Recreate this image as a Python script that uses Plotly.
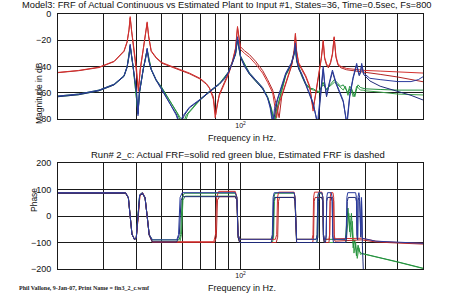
import plotly.graph_objects as go

# ---------------- magnitude data (Hz, dB) ----------------
red_mag_f = [20, 24, 28.7, 32.8, 35.8, 36.8, 37.4, 37.8, 38.3, 38.8, 40, 40.6, 41.3, 42.4, 43.3, 43.9, 44.5, 45.5, 47.5, 50, 54.7, 58.3, 63.7, 70, 74, 76, 78.7, 80, 81.5, 83, 86.8, 90, 93.1, 95.7, 97.4, 99, 100, 103.6, 108.3, 114.2, 121.5, 127, 132.8, 137.5, 140, 143.8, 149, 156.7, 160.5, 162.3, 164, 167, 171.2, 177.8, 184.2, 189.7, 194.2, 200, 204, 207.4, 210, 213.6, 217, 221, 225, 228.4, 232, 236.3, 242.5, 255, 278.6, 300, 342.6, 400, 450, 500]
red_mag = [-44.5, -43, -40.5, -36, -28, -21, -12, -2, -13, -22, -42, -59, -42, -27, -16, -6, -17, -28, -33, -37, -40, -42, -45, -49, -53, -56, -65, -79, -68, -62, -53, -46, -37, -27, -9.5, -22, -27, -30, -33, -38, -45, -52, -60, -79, -70, -62, -52, -39, -28, -14.7, -28, -37, -41, -47, -55, -74, -60, -45, -33, -20, -33, -38, -40, -37, -30, -17.3, -32, -38, -40, -41.5, -42.5, -43, -43.5, -44, -44.5, -45]

red_est_f = [20, 24, 28.7, 32.8, 35.8, 36.8, 37.4, 37.8, 38.3, 38.8, 40, 40.7, 41.3, 42.4, 43.3, 43.9, 44.5, 45.5, 47.5, 50, 54.7, 58.3, 63.7, 70, 74, 76, 78.7, 80.3, 81.5, 83, 86.8, 90, 93.1, 95.7, 97.4, 99, 100, 103.6, 108.3, 114.2, 121.5, 127, 132.8, 136, 140.6, 143.8, 149, 156.7, 160.5, 162.3, 164, 167, 171.2, 177.8, 184.2, 189.7, 194.2, 200, 204, 207.4, 210, 213.6, 217, 221, 225, 228.4, 232, 236.3, 242.5, 255, 278.6, 300, 342.6, 400, 450, 500]
red_est = [-44.7, -43.2, -40.8, -36.3, -28.5, -21.5, -12.5, -3, -13.5, -22.5, -42.5, -58, -42.5, -27.5, -16.5, -7, -17.5, -28.5, -33.5, -37.5, -40.5, -42.5, -45.5, -49.5, -53.5, -56.5, -63, -77, -69, -61, -52, -45, -36, -26, -10.5, -21, -25, -28, -31, -36, -43, -50, -58, -66, -79, -63, -53, -40, -29, -15.5, -29, -38, -42, -48, -56, -72, -61, -46, -34, -21, -34, -39, -41, -38, -31, -18, -33, -39, -41, -42.5, -43.5, -44, -46, -48, -50, -51.6]

blue_mag_f = [20, 24, 28.7, 32.8, 35.8, 36.8, 37.4, 37.8, 38.3, 38.8, 40, 40.5, 41, 42.4, 43.3, 43.9, 44.5, 45.5, 47.5, 50, 51.9, 54.7, 56.7, 58.3, 60, 63.7, 70, 76, 83, 86.8, 90, 93.1, 95.7, 97.4, 99, 100, 103.6, 108.3, 114.2, 121.5, 127, 130, 132.8, 135, 138.8, 143.8, 149, 156.7, 160.5, 162.3, 164, 167, 171.2, 177.8, 184.2, 190, 197, 203, 207.4, 210, 213.6, 219, 225, 232, 240, 247.5, 255, 262, 270, 278.6, 283, 285, 288, 291.2, 296, 313, 342.6, 400, 450, 480, 500]
blue_mag = [-62.5, -61, -58, -53.5, -47, -40, -32, -23, -32, -40, -60, -77.5, -60, -42, -34, -26, -35, -42, -50, -57, -63, -71, -77, -84, -78, -71, -65, -59, -53, -49, -44, -37, -30, -17.3, -28, -32, -39, -45, -50, -56, -64, -72, -84, -72, -64, -55, -45, -37, -30, -22, -34, -41, -45, -53, -61, -68, -84, -60, -40, -52, -62, -52, -42.7, -52, -60, -66, -84, -62, -48, -37.6, -44, -46, -44, -37.6, -45, -49, -50, -51.5, -51.5, -50, -47.8]

blue_est_f = [20, 24, 28.7, 32.8, 35.8, 36.8, 37.4, 37.8, 38.3, 38.8, 40, 40.5, 41, 42.4, 43.3, 43.9, 44.5, 45.5, 47.5, 50, 51.9, 54.7, 56.7, 58.8, 61, 63.7, 70, 76, 83, 86.8, 90, 93.1, 95.7, 97.4, 99, 100, 103.6, 108.3, 114.2, 121.5, 127, 130, 133.5, 136, 138.8, 143.8, 149, 156.7, 160.5, 162.3, 164, 167, 171.2, 177.8, 184.2, 190, 198, 203, 207.4, 210, 213.6, 219, 225, 232, 240, 247.5, 256, 262, 270, 278.6, 283, 285, 288, 291.2, 296, 313, 342.6, 400, 450, 500]
blue_est = [-63, -61.5, -58.5, -54, -47.5, -40.5, -32.5, -24, -32.5, -40.5, -60, -76, -60, -42.5, -34.5, -27, -35.5, -42.5, -50.5, -57.5, -63.5, -71, -76, -84, -77, -71.5, -65.5, -59.5, -53.5, -49.5, -44.5, -37.5, -30.5, -19, -29, -33, -40, -46, -51, -57, -64, -70, -84, -73, -65, -56, -46, -38, -31, -23.5, -35, -42, -46, -54, -62, -69, -84, -61, -42, -53, -63, -53, -44, -53, -61, -67, -84, -63, -49, -39, -45, -47, -45, -39, -46, -51, -55, -59, -62, -65.5]

green_mag_f = [20, 24, 28.7, 32.8, 35.8, 36.8, 37.8, 38.8, 40.5, 41, 42.4, 43.9, 45.5, 47.5, 50, 54.7, 57, 60, 62, 66.5, 70, 76, 83, 90, 95.7, 97.4, 100, 108.3, 121.5, 127, 131, 135, 137, 143.8, 149, 156.7, 162.3, 164, 171.2, 177.8, 185, 190, 200, 207, 213.6, 220, 229, 236, 242, 247.5, 252, 258, 262, 266, 270, 274, 278.6, 282, 288, 295, 300, 342.6, 400, 500]
green_mag = [-62.5, -61, -58, -53.5, -47, -40, -24, -40, -76, -60, -42, -27, -42, -50, -56, -69, -75, -85, -77, -70, -65, -59, -53, -44, -30, -19, -32, -45, -56, -63, -72, -84, -74, -58, -46, -38, -24, -35, -46, -53, -56.6, -57, -60, -52, -58, -54, -50, -53, -55, -54, -57, -60, -55, -56.6, -60, -63, -57, -54, -56, -56.6, -57, -57.5, -58, -58]

green_est_f = [20, 24, 28.7, 32.8, 35.8, 36.8, 37.8, 38.8, 40.5, 41, 42.4, 43.9, 45.5, 47.5, 50, 54.7, 57.5, 61, 63, 66.5, 70, 76, 83, 90, 95.7, 97.4, 100, 108.3, 121.5, 127, 131, 136, 138, 143.8, 149, 156.7, 162.3, 164, 171.2, 177.8, 185, 190, 200, 207, 213.6, 220, 229, 236, 242, 247.5, 252, 258, 262, 266, 270, 274, 278.6, 282, 288, 295, 300, 342.6, 400, 500]
green_est = [-63, -61.5, -58.5, -54, -47.5, -40.5, -25, -40.5, -75, -60.5, -42.5, -28, -42.5, -50.5, -56.5, -69.5, -76, -84, -76, -70.5, -65.5, -59.5, -53.5, -44.5, -31, -20, -33, -46, -57, -63.5, -71, -84, -73, -59, -47, -39, -25, -36, -47, -54, -57, -58, -59, -54, -57, -55, -52, -54, -56, -58, -55, -62, -57, -58, -63, -61, -55, -56, -58, -58, -58.5, -59.5, -61, -61.7]

# ---------------- phase data (Hz, degrees) ----------------
blue_ph_f = [20, 36.3, 37.2, 37.8, 38.4, 39.3, 39.9, 40.5, 41.1, 42.1, 43.1, 43.9, 44.7, 46, 57, 57.9, 58.7, 59.8, 95.5, 96.9, 97.9, 99.3, 131, 132.4, 133.3, 134.6, 160.5, 161.8, 162.8, 164, 195, 196.6, 197.6, 199, 205, 206.8, 207.8, 209.5, 211.5, 212.9, 213.9, 215.5, 222.5, 224.5, 225.5, 227, 252, 254, 255.5, 257.5, 276, 278, 279.3, 281, 281.8, 282.6, 284, 286, 289, 290.8, 291.8, 293, 330, 400, 500]
blue_ph = [88, 88, 70, 0, -70, -88, -80, 0, 80, 88, 70, 0, -70, -90, -90, -70, 70, 88, 88, 70, -70, -88, -88, -70, 70, 88, 88, 70, -70, -88, -88, -70, 70, 88, 88, 70, -70, -88, -88, -70, 70, 88, 88, 70, -70, -88, -88, -70, 70, 88, 88, 70, -70, -80, 70, 88, 88, 70, -70, 70, -70, -84, -95, -100, -103]

blue_est_ph_f = [20, 36.3, 37.2, 37.8, 38.4, 39.3, 39.9, 40.5, 41.1, 42.1, 43.1, 43.9, 44.7, 46, 57, 58.3, 59.2, 60.3, 95.5, 96.9, 97.9, 99.3, 131, 132.9, 133.8, 135, 160.5, 161.8, 162.8, 164, 196, 197.6, 198.6, 200, 205, 206.8, 207.8, 209.5, 211.5, 212.9, 213.9, 215.5, 222.5, 224.5, 225.5, 227, 253, 255, 256.5, 258.5, 276, 278, 279.3, 281, 282, 283, 284.5, 286, 289, 290.8, 291.8, 293, 294.5, 296, 500]
blue_est_ph = [86, 86, 68, 0, -68, -90, -82, 0, 78, 84, 68, 0, -72, -98, -98, -70, 60, 73, 73, 60, -80, -100, -100, -80, 55, 70, 70, 55, -80, -100, -100, -80, 55, 70, 70, 55, -80, -100, -100, -80, 55, 70, 70, 55, -80, -100, -100, -80, 55, 70, 70, 55, -80, -90, 60, 70, 70, 55, -80, 55, -80, -110, -170, -230, -260]

red_ph_f = [20, 36.3, 37.2, 37.8, 38.4, 39.3, 39.9, 40.6, 41.2, 42.2, 43.1, 43.9, 44.7, 46, 79, 80.2, 81, 82.5, 95.5, 96.9, 97.9, 99.3, 136, 137.6, 138.6, 140, 160.5, 161.8, 162.8, 164, 188, 189.5, 190.5, 192, 205, 206.8, 207.8, 209.5, 218, 219.5, 220.5, 222, 226, 227.5, 228.5, 230, 291, 330, 400, 500]
red_ph = [88, 88, 70, 0, -70, -88, -80, 0, 80, 88, 70, 0, -70, -97, -97, -70, 70, 93, 93, 70, -70, -88, -88, -70, 70, 90, 90, 70, -70, -88, -88, -70, 70, 90, 90, 70, -70, -88, -88, -70, 70, 88, 88, 70, -70, -86, -84, -95, -100, -103]

red_est_ph_f = [20, 36.3, 37.2, 37.8, 38.4, 39.3, 39.9, 40.6, 41.2, 42.2, 43.1, 43.9, 44.7, 46, 79.5, 80.8, 81.6, 83, 95.5, 96.9, 97.9, 99.3, 137, 138.8, 139.8, 141, 160.5, 161.8, 162.8, 164, 189, 190.5, 191.5, 193, 205, 206.8, 207.8, 209.5, 218, 219.5, 220.5, 222, 226, 227.5, 228.5, 230, 291, 330, 400, 500]
red_est_ph = [86, 86, 68, 0, -68, -90, -82, 0, 78, 84, 68, 0, -72, -100, -100, -80, 60, 73, 73, 60, -80, -100, -100, -80, 55, 70, 70, 55, -80, -100, -100, -80, 55, 70, 70, 55, -80, -100, -100, -80, 55, 70, 70, 55, -80, -95, -90, -98, -102, -106]

green_ph_f = [20, 36.3, 37.2, 37.8, 38.4, 39.3, 39.9, 40.5, 41.1, 42.1, 43.1, 43.9, 44.7, 46, 58.2, 59, 59.8, 61, 95.5, 96.9, 97.9, 99.3, 132, 133.4, 134.3, 135.6, 160.5, 161.8, 162.8, 164, 195, 196.6, 197.6, 199, 205, 206.8, 207.8, 209.5, 252, 255, 258, 262, 266, 270, 274, 278, 282, 286, 291, 400, 500]
green_ph = [88, 88, 70, 0, -70, -88, -80, 0, 80, 88, 70, 0, -70, -90, -90, -70, 70, 86, 86, 70, -70, -88, -88, -70, 70, 86, 86, 70, -70, -88, -88, -70, 70, 86, 86, 70, -70, -88, -88, -40, 30, -60, 10, -120, -90, -150, -110, -135, -141, -173, -197]

green_est_ph_f = [20, 36.3, 37.2, 37.8, 38.4, 39.3, 39.9, 40.5, 41.1, 42.1, 43.1, 43.9, 44.7, 46, 58.6, 59.4, 60.2, 61.4, 95.5, 96.9, 97.9, 99.3, 132.5, 133.9, 134.8, 136, 160.5, 161.8, 162.8, 164, 196, 197.6, 198.6, 200, 205, 206.8, 207.8, 209.5, 253, 256, 260, 264, 268, 272, 276, 280, 284, 288, 292, 400, 500]
green_est_ph = [86, 86, 68, 0, -68, -90, -82, 0, 78, 84, 68, 0, -72, -98, -98, -70, 60, 75, 75, 60, -80, -100, -100, -80, 55, 70, 70, 55, -80, -100, -100, -80, 55, 70, 70, 55, -80, -100, -100, -60, 10, -80, -20, -140, -100, -160, -120, -145, -142, -174, -198]

grid_vals = [30, 40, 50, 60, 70, 80, 90, 100, 200, 300, 400]
grid_text = [" ", " ", " ", " ", " ", " ", " ", "10<sup>2</sup>", " ", " ", " "]

RED = "#d3302e"
RED_E = "#b22424"
BLUE = "#2c3c9e"
BLUE_E = "#1e2a78"
GREEN = "#22903f"
GREEN_E = "#3aa048"

fig = go.Figure()

def add(fx, fy, color, xa, ya, width=1.0):
    fig.add_trace(go.Scatter(x=fx, y=fy, mode="lines", line=dict(color=color, width=width),
                             xaxis=xa, yaxis=ya, showlegend=False, hoverinfo="skip"))

# magnitude
add(green_est_f, green_est, GREEN_E, "x", "y")
add(green_mag_f, green_mag, GREEN, "x", "y")
add(red_est_f, red_est, RED_E, "x", "y")
add(red_mag_f, red_mag, RED, "x", "y")
add(blue_est_f, blue_est, BLUE_E, "x", "y")
add(blue_mag_f, blue_mag, BLUE, "x", "y")
# phase
add(green_est_ph_f, green_est_ph, GREEN_E, "x2", "y2")
add(green_ph_f, green_ph, GREEN, "x2", "y2")
add(red_est_ph_f, red_est_ph, RED_E, "x2", "y2")
add(red_ph_f, red_ph, RED, "x2", "y2")
add(blue_est_ph_f, blue_est_ph, BLUE_E, "x2", "y2")
add(blue_ph_f, blue_ph, BLUE, "x2", "y2")

W, H = 449, 294
def px(x):
    return x / W
def py(y):
    return 1 - y / H

FONT = "Liberation Sans, Arial, sans-serif"
xcommon = dict(type="log", range=[1.30103, 2.69897], tickmode="array", tickvals=grid_vals,
               ticktext=grid_text, showgrid=True, gridcolor="#1a1a1a", gridwidth=1,
               showline=True, linecolor="#1a1a1a", linewidth=1, mirror=True,
               ticks="",
               tickfont=dict(family=FONT, size=7, color="#111"), zeroline=False,
               automargin=False, domain=[px(58), px(423)])
ycommon = dict(showgrid=True, gridcolor="#1a1a1a", gridwidth=1, showline=True,
               linecolor="#1a1a1a", linewidth=1, mirror=True,
               ticks="outside", ticklen=4, tickcolor="rgba(0,0,0,0)", zeroline=False,
               tickfont=dict(family=FONT, size=9, color="#111"), automargin=False)

fig.update_layout(
    width=W, height=H, margin=dict(l=0, r=0, t=0, b=0, pad=0), autosize=False,
    paper_bgcolor="white", plot_bgcolor="white", showlegend=False,
    xaxis=dict(**xcommon, anchor="y"),
    yaxis=dict(**ycommon, range=[-80, 0], tickvals=[-80, -60, -40, -20, 0],
               domain=[py(119), py(14)], anchor="x"),
    xaxis2=dict(**xcommon, anchor="y2"),
    yaxis2=dict(**ycommon, range=[-200, 200], tickvals=[-200, -100, 0, 100, 200],
                domain=[py(269), py(163)], anchor="x2"),
)

ann = [
    dict(text="Model3: FRF of Actual Continuous vs Estimated Plant to Input #1, States=36, Time=0.5sec, Fs=800",
         x=px(20), y=py(5), xanchor="left", yanchor="middle", size=9.3),
    dict(text="Run# 2_c: Actual FRF=solid red green blue, Estimated FRF is dashed",
         x=px(238), y=py(154), xanchor="center", yanchor="middle", size=9.5),
    dict(text="Frequency in Hz.", x=px(242), y=py(137.5), xanchor="center", yanchor="middle", size=9),
    dict(text="Frequency in Hz.", x=px(242), y=py(287.5), xanchor="center", yanchor="middle", size=9),
]
for a in ann:
    fig.add_annotation(text=a["text"], x=a["x"], y=a["y"], xref="paper", yref="paper",
                       xanchor=a["xanchor"], yanchor=a["yanchor"], showarrow=False,
                       font=dict(family=FONT, size=a["size"], color="#111"))

fig.add_annotation(text="Magnitude in dB", x=px(32), y=py(60), xref="paper", yref="paper",
                   textangle=-90, showarrow=False, font=dict(family=FONT, size=8.5, color="#111"))
fig.add_annotation(text="Phase", x=px(27), y=py(214), xref="paper", yref="paper",
                   textangle=-90, showarrow=False, font=dict(family=FONT, size=8.5, color="#111"))
fig.add_annotation(text="<b>Phil Vallone, 9-Jan-07, Print Name = fin3_2_c.wmf</b>", x=px(17), y=py(288),
                   xref="paper", yref="paper", xanchor="left", yanchor="middle", showarrow=False,
                   font=dict(family="Liberation Serif, Times New Roman, serif", size=6, color="#222"))

fig.write_html("out.html")
